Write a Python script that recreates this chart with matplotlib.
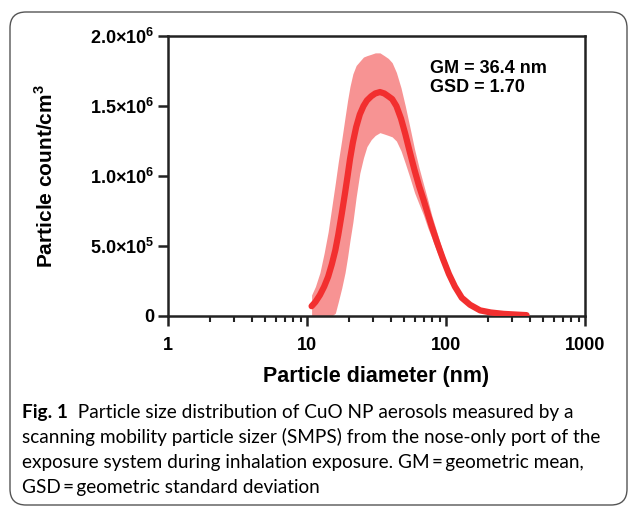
import matplotlib
matplotlib.use("Agg")
import matplotlib.pyplot as plt
from matplotlib.patches import FancyBboxPatch
from matplotlib.ticker import FixedLocator, NullFormatter, LogLocator

# SMPS size distribution (diameter in nm, counts per cm3)
diameter = [10.8, 11.5, 12.4, 13.3, 14.2, 15.1, 16.0, 16.8, 17.8, 18.8, 19.6,
            20.4, 21.4, 22.6, 24.0, 25.5, 27.0, 29.0, 31.0, 33.5, 36.0, 38.5,
            41.0, 44.0, 47.5, 51.0, 55.0, 59.5, 64.0, 69.0, 74.0, 79.0, 86.0,
            95.0, 105, 116, 130, 149, 176, 210, 260, 320, 380]
mean = [0.07, 0.10, 0.15, 0.21, 0.28, 0.37, 0.47, 0.58, 0.73, 0.88, 1.00,
        1.12, 1.24, 1.35, 1.44, 1.50, 1.54, 1.57, 1.59, 1.60, 1.59, 1.57,
        1.55, 1.50, 1.41, 1.30, 1.17, 1.04, 0.93, 0.83, 0.73, 0.64, 0.53,
        0.41, 0.30, 0.21, 0.13, 0.08, 0.04, 0.025, 0.015, 0.01, 0.006]
upper = [0.15, 0.21, 0.31, 0.45, 0.60, 0.78, 0.95, 1.10, 1.26, 1.42, 1.54,
         1.64, 1.73, 1.79, 1.82, 1.85, 1.86, 1.87, 1.88, 1.88, 1.86, 1.84,
         1.81, 1.74, 1.63, 1.50, 1.35, 1.19, 1.06, 0.94, 0.83, 0.72, 0.60,
         0.46, 0.34, 0.24, 0.15, 0.09, 0.05, 0.03, 0.018, 0.012, 0.008]
lower = [0.0, 0.0, 0.0, 0.0, 0.0, 0.0, 0.02, 0.10, 0.20, 0.31, 0.42,
         0.54, 0.67, 0.85, 1.02, 1.13, 1.21, 1.26, 1.29, 1.31, 1.30, 1.29,
         1.28, 1.25, 1.18, 1.09, 0.99, 0.88, 0.80, 0.72, 0.63, 0.56, 0.46,
         0.36, 0.26, 0.18, 0.11, 0.07, 0.03, 0.02, 0.012, 0.008, 0.004]
scale = 1e6

yticks = [0, 5e5, 1e6, 1.5e6, 2e6]
ytick_labels = ["0", r"$\mathbf{5.0{\times}10^{5}}$", r"$\mathbf{1.0{\times}10^{6}}$",
                r"$\mathbf{1.5{\times}10^{6}}$", r"$\mathbf{2.0{\times}10^{6}}$"]
xticks = [1, 10, 100, 1000]
xtick_labels = ["1", "10", "100", "1000"]

caption_lines = [
    "scanning mobility particle sizer (SMPS) from the nose-only port of the",
    "exposure system during inhalation exposure. GM\u2009=\u2009geometric mean,",
    "GSD\u2009=\u2009geometric standard deviation",
]

plt.rcParams["font.family"] = ["Liberation Sans", "DejaVu Sans"]
plt.rcParams["font.weight"] = "bold"
plt.rcParams["mathtext.fontset"] = "custom"
plt.rcParams["mathtext.rm"] = "Liberation Sans:bold"
plt.rcParams["mathtext.bf"] = "Liberation Sans:bold"

fig = plt.figure(figsize=(6.29, 5.08), dpi=100)
ax = fig.add_axes([0.267, 0.378, 0.663, 0.551])

# rounded frame around the whole figure
frame = FancyBboxPatch((0.10, 0.03), 6.17, 4.93, boxstyle="round,pad=0,rounding_size=0.16",
                       transform=fig.dpi_scale_trans, facecolor="none",
                       edgecolor="#555555", linewidth=1.0)
fig.patches.append(frame)

d = diameter
ax.fill_between(d, [v * scale for v in lower], [v * scale for v in upper],
                color="#f79393", linewidth=0, zorder=2)
ax.plot(d, [v * scale for v in mean], color="#f22f2f", linewidth=4.5,
        solid_capstyle="round", zorder=3)

ax.set_xscale("log")
ax.set_xlim(1, 1000)
ax.set_ylim(0, 2e6)

ax.xaxis.set_major_locator(FixedLocator(xticks))
ax.set_xticklabels(xtick_labels)
ax.xaxis.set_minor_locator(LogLocator(base=10, subs=range(2, 10)))
ax.xaxis.set_minor_formatter(NullFormatter())
ax.set_yticks(yticks)
ax.set_yticklabels(ytick_labels)

for s in ax.spines.values():
    s.set_linewidth(1.8)
    s.set_color("#222222")
ax.tick_params(axis="both", which="major", direction="out", length=7, width=1.8,
               labelsize=13, colors="#222222", labelcolor="black")
ax.tick_params(axis="x", which="minor", direction="out", length=4, width=1.5,
               colors="#222222")
ax.tick_params(axis="y", pad=3)
ax.tick_params(axis="x", pad=8)

ax.set_xlabel("Particle diameter (nm)", fontsize=15.5, fontweight="bold", labelpad=9)
ax.set_ylabel(r"Particle count/cm$^{\mathbf{3}}$", fontsize=15, fontweight="bold",
              labelpad=24)

ax.text(0.628, 0.915, "GM = 36.4 nm\nGSD = 1.70", transform=ax.transAxes,
        fontsize=13, fontweight="bold", va="top", ha="left", linespacing=1.2)

# caption
cap_font = ["Lato", "DejaVu Sans"]
fig_label = fig.text(22 / 629, 1 - 418 / 508, "Fig. 1", fontsize=13.7,
                     fontweight="bold", family=cap_font, ha="left", va="baseline")
plt.annotate("  Particle size distribution of CuO NP aerosols measured by a",
             xy=(1, 0), xycoords=fig_label, fontsize=13.7, fontweight="normal",
             family=cap_font, ha="left", va="bottom", annotation_clip=False)
for i, line in enumerate(caption_lines):
    fig.text(22 / 629, 1 - (443 + 25 * i) / 508, line, fontsize=13.7,
             fontweight="normal", family=cap_font, ha="left", va="baseline")

fig.savefig("out.png", dpi=100)
